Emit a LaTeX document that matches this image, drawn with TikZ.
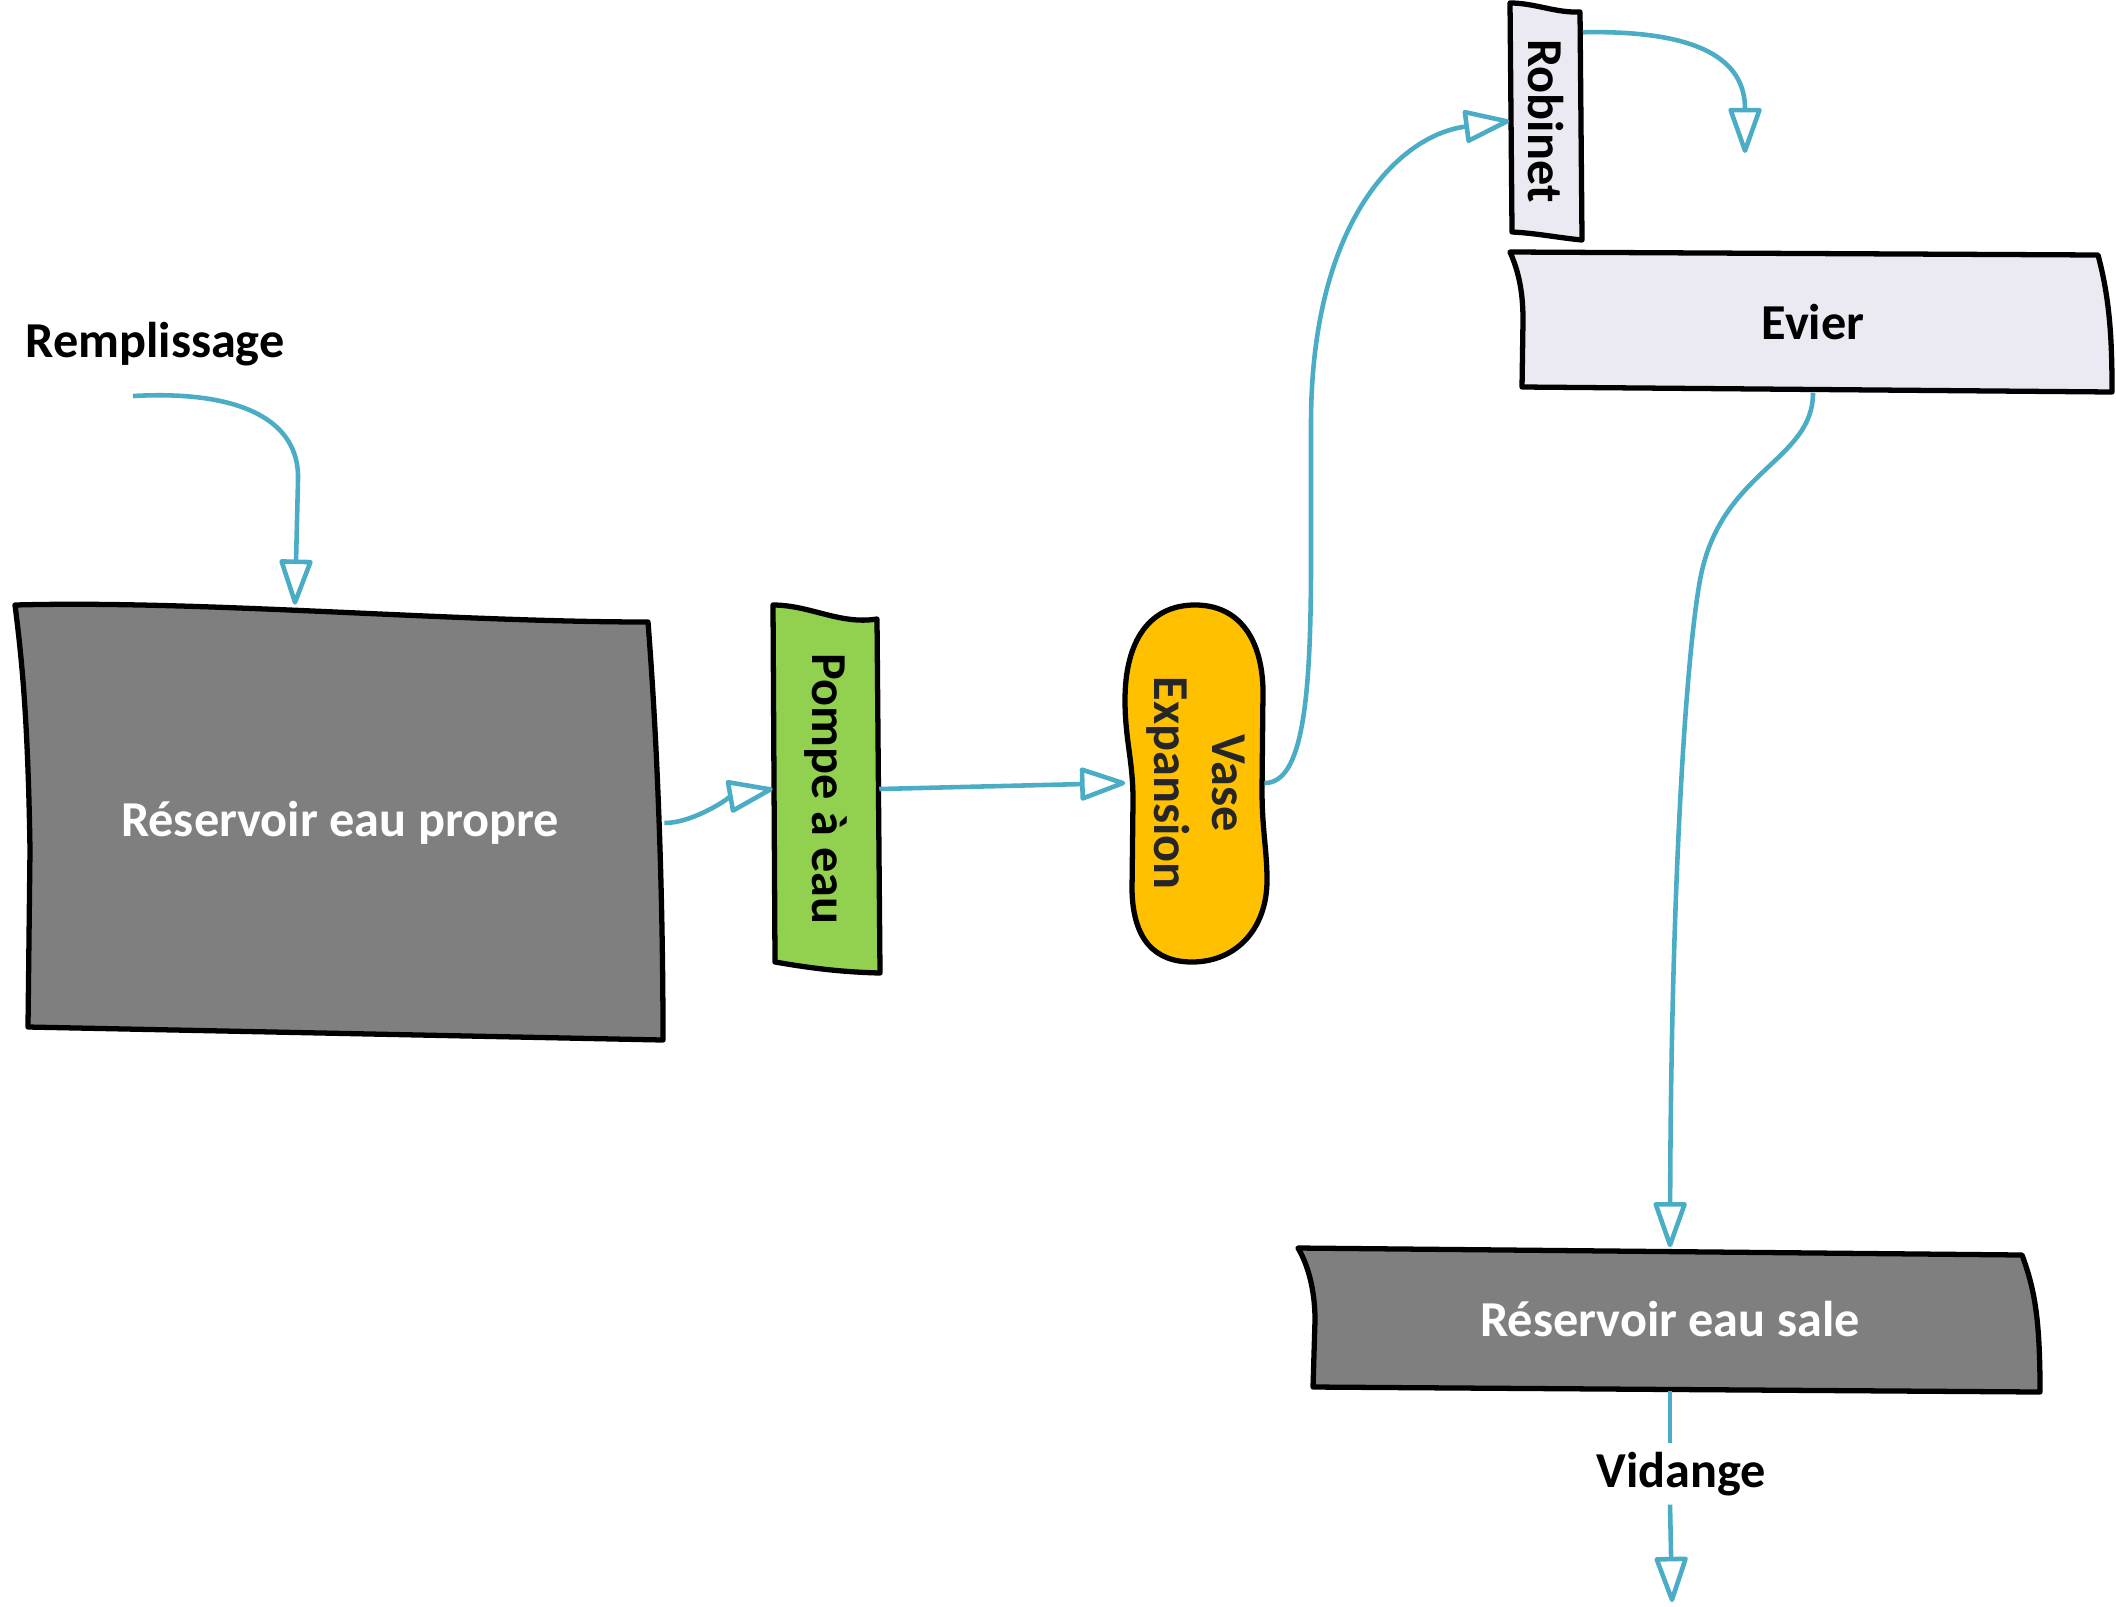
\documentclass[tikz,border=0pt]{standalone}
\usepackage{fontspec}
\setmainfont{Carlito}
\usepackage{xcolor}
\usepackage{tikz}
\usetikzlibrary{arrows.meta}

\definecolor{flowblue}{HTML}{4BACC6}
\definecolor{tankgray}{HTML}{7F7F7F}
\definecolor{pumpgreen}{HTML}{92D050}
\definecolor{vaseorange}{HTML}{FFC000}
\definecolor{sinklilac}{HTML}{EBE9F1}
\definecolor{textdark}{HTML}{262626}

\tikzset{
  outline/.style={draw=black, line width=1.5pt, line join=round},
  pipe/.style={draw=flowblue, line width=1.3pt},
  flow/.style={pipe, -{Triangle[open, round, length=5mm, width=3.4mm]}},
  lbl/.style={inner sep=0pt, align=center, font=\bfseries\fontsize{14.3}{16.5}\selectfont},
}

\begin{document}
\begin{tikzpicture}[x=0.01cm, y=-0.01cm]
        \useasboundingbox (0,0) rectangle (2116,1606);

        % hand drawn outlines
        \filldraw[outline, fill=tankgray] (15,605) .. controls (200,600) and (450,622) .. (648,622) .. controls (658,750) and (663,900) .. (663,1040) -- (28,1027) -- (30,850) .. controls (28,720) and (22,660) .. (15,605) -- cycle;
        \filldraw[outline, fill=pumpgreen] (773,605) .. controls (810,605) and (840,625) .. (877,619) -- (880,973) .. controls (840,972) and (810,968) .. (775,962) -- cycle;
        \filldraw[outline, fill=vaseorange] (1195,605) .. controls (1240,605) and (1262,640) .. (1263,690) -- (1262,790) .. controls (1262,830) and (1267,850) .. (1267,880) .. controls (1267,930) and (1235,962) .. (1192,962) .. controls (1155,962) and (1133,940) .. (1132,890) -- (1133,800) .. controls (1133,760) and (1125,740) .. (1125,700) .. controls (1125,640) and (1150,605) .. (1195,605) -- cycle;
        \filldraw[outline, fill=sinklilac] (1510,3) .. controls (1535,3) and (1555,13) .. (1580,12) -- (1582,240) .. controls (1560,238) and (1535,233) .. (1512,232) -- cycle;
        \filldraw[outline, fill=sinklilac] (1510,252) -- (2098,255) .. controls (2110,300) and (2112,340) .. (2112,392) -- (1522,387) -- (1523,320) .. controls (1523,290) and (1518,270) .. (1510,252) -- cycle;
        \filldraw[outline, fill=tankgray] (1298,1248) -- (2022,1255) .. controls (2035,1290) and (2040,1320) .. (2040,1392) -- (1313,1387) -- (1315,1320) .. controls (1315,1290) and (1308,1265) .. (1298,1248) -- cycle;

        \node[lbl] (remplissage) at (155,344) {Remplissage};
        \coordinate (entree) at (133,396);
        \node[lbl, text=white, minimum width=6.47cm, minimum height=4.35cm] (respropre) at (340,823) {Réservoir eau propre};
        \node[lbl, minimum width=1.05cm, minimum height=3.68cm] (pompe) at (826,789) {\rotatebox{-90}{Pompe à eau}};
        \node[lbl, text=textdark, minimum width=1.38cm, minimum height=3.57cm] (vase) at (1195,783) {\rotatebox{-90}{\begin{tabular}{@{}c@{}}Vase\\Expansion\end{tabular}}};
        \node[lbl, minimum width=0.72cm, minimum height=2.36cm] (robinet) at (1546,121) {\rotatebox{-90}{Robinet}};
        \coordinate (bec) at (1745,153);
        \node[lbl, minimum width=5.9cm, minimum height=1.4cm] (evier) at (1813,322) {Evier};
        \node[lbl, text=white, minimum width=7.4cm, minimum height=1.42cm] (ressale) at (1670,1319) {Réservoir eau sale};
        \node[lbl, inner sep=0.08cm] (vidange) at (1681,1474) {Vidange};
        \coordinate (sortie) at (1672,1602);

        \draw[flow] (entree) .. controls (240,390) and (300,420) .. (298,480) -- ([xshift=-0.45cm]respropre.north);
        \draw[flow] (respropre.east) .. controls +(30,0) and +(-40,7) .. (pompe.west);
        \draw[flow] (pompe.east) -- (vase.west);
        \draw[flow] (vase.east) .. controls +(38,0) and (1311,700) .. (1311,560) -- (1311,420) .. controls (1312,220) and (1400,135) .. (robinet.west);
        \draw[flow] ([yshift=-0.3cm]robinet.north east) .. controls (1700,30) and (1745,60) .. (bec);
        \draw[flow] (evier.south) .. controls +(0,69) and (1720,470) .. (1700,580) .. controls (1685,662) and (1671,900) .. (ressale.north);
        \draw[pipe] (ressale.south) -- (ressale.south |- vidange.north);
        \draw[flow] (ressale.south |- vidange.south) -- (sortie);
    \end{tikzpicture}
\end{document}
